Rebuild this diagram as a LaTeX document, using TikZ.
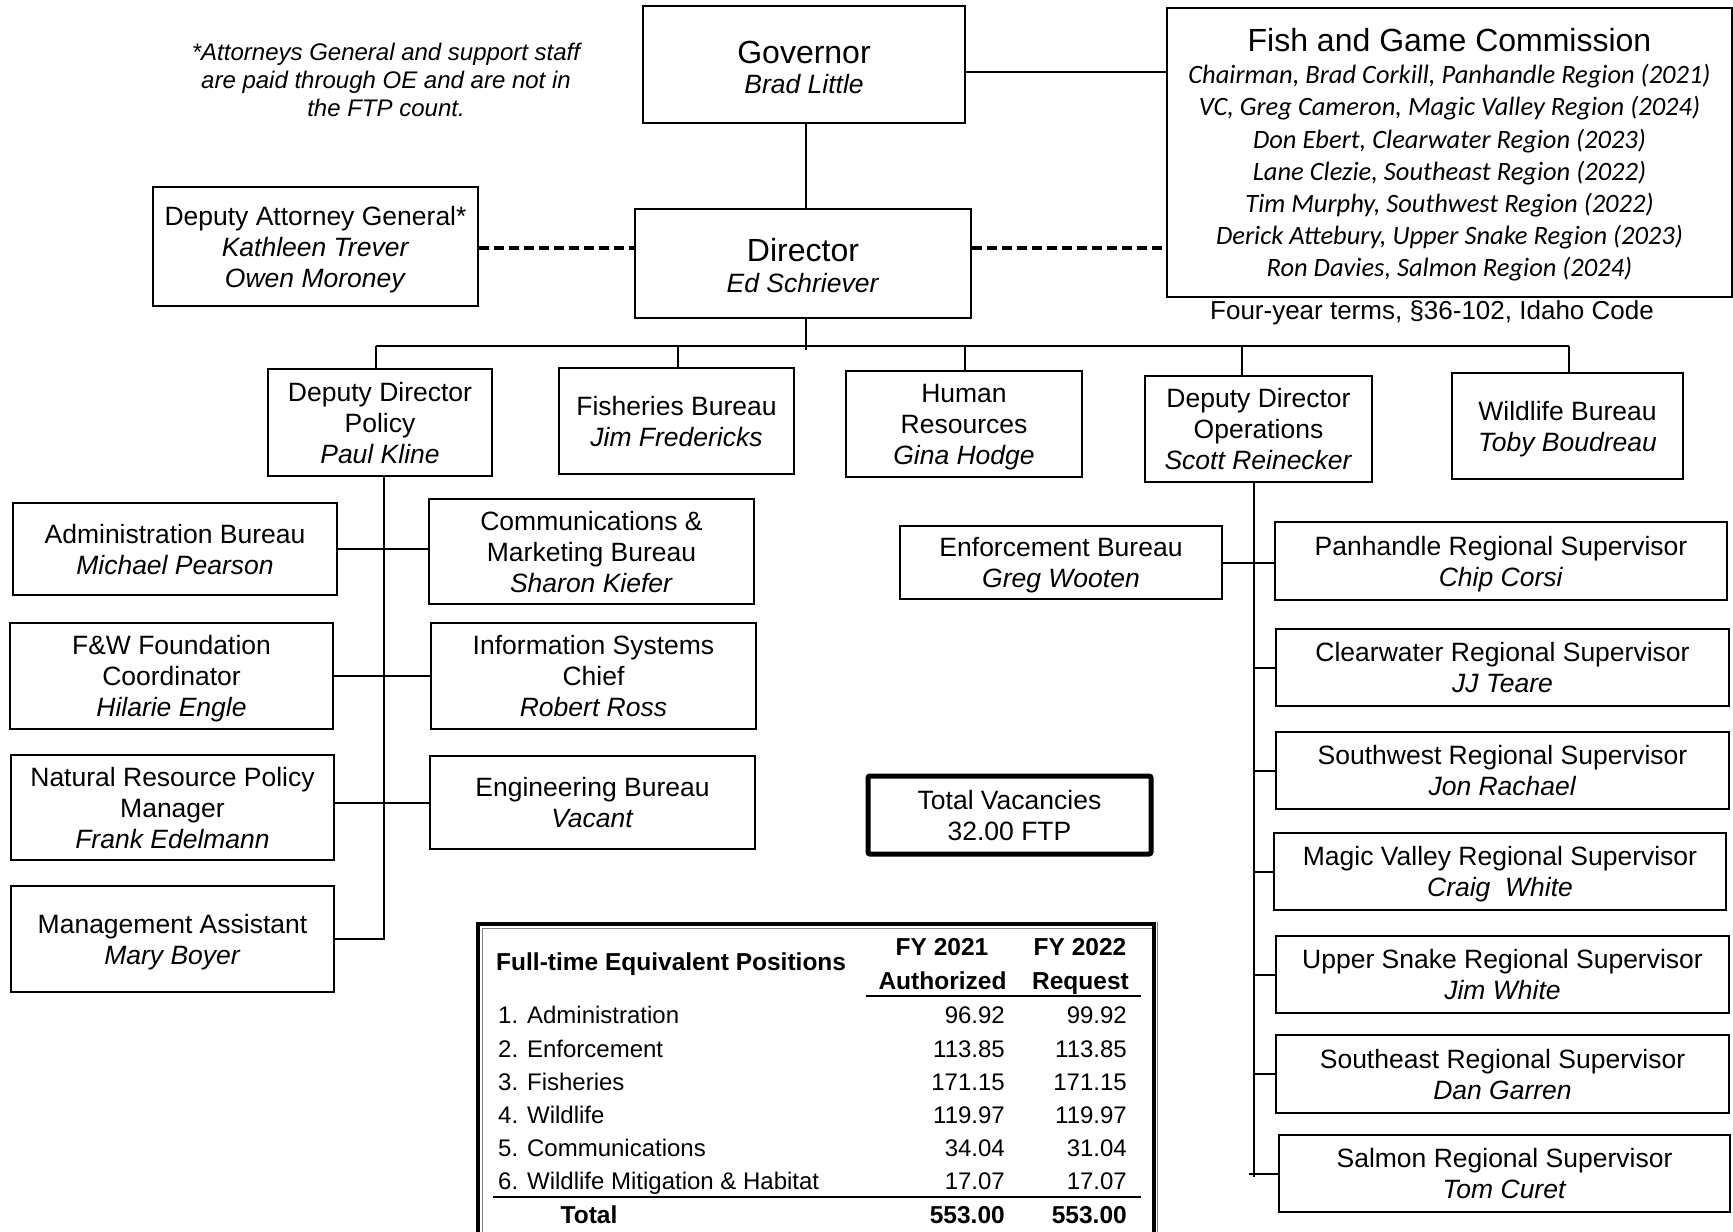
\documentclass[tikz,border=0pt]{standalone}
\usepackage{fontspec}
\setmainfont{Liberation Sans}
\newfontfamily\calfont{Carlito}
\newcommand\cmline[1]{{\calfont\itshape #1}}
\begin{document}
\begin{tikzpicture}[x=1pt,y=-1pt,
  box/.style={draw,line width=2pt,inner sep=0pt,align=center,text depth=0pt,font=\fontsize{26.5}{31}\selectfont},
  conn/.style={line width=2pt},
  dashconn/.style={line width=4pt,dash pattern=on 10pt off 5pt},
  tabtxt/.style={inner sep=0pt,font=\fontsize{24}{28}\selectfont},
  tabbold/.style={inner sep=0pt,font=\fontsize{24.5}{28}\selectfont\bfseries}
]
\useasboundingbox[fill=white] (0,0) rectangle (1733,1232);

% top level
\node[box,text height=57.2pt,minimum width=322pt,minimum height=117pt] (gov) at (804,64.5)
  {{\fontsize{32}{31}\selectfont Governor}\\[-1.5pt]\textit{Brad Little}};
\node[box,text height=57.8pt,minimum width=336pt,minimum height=109pt] (dir) at (803,263.5)
  {{\fontsize{32}{31}\selectfont Director}\\[-0.5pt]\textit{Ed Schriever}};
\node[box,minimum width=325pt,minimum height=119pt] (dag) at (315.5,246.5)
  {Deputy Attorney General*\\\textit{Kathleen Trever}\\\textit{Owen Moroney}};
\node[box,minimum width=565pt,minimum height=289pt,font=\fontsize{26.5}{32.2}\selectfont] (fgc) at (1449.5,152.5)
  {{\fontsize{32}{32}\selectfont Fish and Game Commission}\\[0.3pt]
   \cmline{Chairman, Brad Corkill, Panhandle Region (2021)}\\
   \cmline{VC, Greg Cameron, Magic Valley Region (2024)}\\
   \cmline{Don Ebert, Clearwater Region (2023)}\\
   \cmline{Lane Clezie, Southeast Region (2022)}\\
   \cmline{Tim Murphy, Southwest Region (2022)}\\
   \cmline{Derick Attebury, Upper Snake Region (2023)}\\
   \cmline{Ron Davies, Salmon Region (2024)}};
\node[inner sep=0pt,font=\fontsize{26}{30}\selectfont] (terms) at (1432,313)
  {Four-year terms, §36-102, Idaho Code};
\node[inner sep=0pt,align=center,font=\fontsize{24}{28}\selectfont\itshape] (note) at (386,80)
  {*Attorneys General and support staff\\are paid through OE and are not in\\the FTP count.};

% second level
\node[box,minimum width=224pt,minimum height=107pt] (policy) at (380,422.5)
  {Deputy Director\\Policy\\\textit{Paul Kline}};
\node[box,minimum width=235pt,minimum height=106pt] (fish) at (676.5,421)
  {Fisheries Bureau\\\textit{Jim Fredericks}};
\node[box,minimum width=236pt,minimum height=106pt] (hr) at (964,424)
  {Human\\Resources\\\textit{Gina Hodge}};
\node[box,minimum width=227pt,minimum height=106pt] (ops) at (1258.5,429)
  {Deputy Director\\Operations\\\textit{Scott Reinecker}};
\node[box,minimum width=231pt,minimum height=106pt] (wild) at (1567.5,426)
  {Wildlife Bureau\\\textit{Toby Boudreau}};

% policy branch
\node[box,minimum width=324pt,minimum height=92pt] (admin) at (175,549)
  {Administration Bureau\\\textit{Michael Pearson}};
\node[box,minimum width=325pt,minimum height=105pt] (comms) at (591.5,551.5)
  {Communications \&\\Marketing Bureau\\\textit{Sharon Kiefer}};
\node[box,minimum width=323pt,minimum height=106pt] (fw) at (171.5,676)
  {F\&W Foundation\\Coordinator\\\textit{Hilarie Engle}};
\node[box,minimum width=325pt,minimum height=106pt] (info) at (593.5,676)
  {Information Systems\\Chief\\\textit{Robert Ross}};
\node[box,minimum width=323pt,minimum height=105pt] (natres) at (172.5,807.5)
  {Natural Resource Policy\\Manager\\\textit{Frank Edelmann}};
\node[box,minimum width=325pt,minimum height=93pt] (eng) at (592.5,802.5)
  {Engineering Bureau\\\textit{Vacant}};
\node[box,minimum width=323pt,minimum height=106pt] (mgmt) at (172.5,939)
  {Management Assistant\\\textit{Mary Boyer}};

% operations branch
\node[box,minimum width=322pt,minimum height=73pt] (enf) at (1061,562.5)
  {Enforcement Bureau\\\textit{Greg Wooten}};
\node[box,minimum width=452pt,minimum height=78pt] (pan) at (1501,561)
  {Panhandle Regional Supervisor\\\textit{Chip Corsi}};
\node[box,minimum width=453pt,minimum height=77pt] (clw) at (1502.5,667.5)
  {Clearwater Regional Supervisor\\\textit{JJ Teare}};
\node[box,minimum width=453pt,minimum height=77pt] (sw) at (1502.5,770.5)
  {Southwest Regional Supervisor\\\textit{Jon Rachael}};
\node[box,minimum width=452pt,minimum height=77pt] (mv) at (1500,871.5)
  {Magic Valley Regional Supervisor\\\textit{Craig\ \ White}};
\node[box,minimum width=453pt,minimum height=77pt] (us) at (1502.5,974.5)
  {Upper Snake Regional Supervisor\\\textit{Jim White}};
\node[box,minimum width=453pt,minimum height=78pt] (se) at (1502.5,1074)
  {Southeast Regional Supervisor\\\textit{Dan Garren}};
\node[box,minimum width=451pt,minimum height=77pt] (sal) at (1504.5,1173.5)
  {Salmon Regional Supervisor\\\textit{Tom Curet}};

\node[box,line width=5pt,rounded corners=2pt,minimum width=283pt,minimum height=78pt] (vac) at (1009.5,815)
  {Total Vacancies\\32.00 FTP};

% connectors
\coordinate (dv) at (806,0);
\coordinate (bl) at (376,346);
\coordinate (br) at (1569,346);
\coordinate (d2) at (678,346);
\coordinate (d3) at (965,346);
\coordinate (d4) at (1242,346);
\coordinate (pv) at (384,0);
\coordinate (ov) at (1254,0);
\coordinate (oend) at (1254,1177);

\draw[conn] (gov.south -| dv) -- (dir.north -| dv);
\draw[conn] ([yshift=-7.5pt]gov.east) -- ([yshift=-7.5pt]gov.east -| fgc.west);
\draw[dashconn] ([yshift=-1.5pt]dag.east) -- ([yshift=-1.5pt]dag.east -| dir.west);
\draw[dashconn] ([yshift=16pt]dir.east) -- ([yshift=16pt]dir.east -| fgc.west);

\draw[conn] (bl) -- (br);
\draw[conn] (dir.south -| dv) -- ++(0,31);
\draw[conn] (bl) -- (bl |- policy.north);
\draw[conn] (d2) -- (d2 |- fish.north);
\draw[conn] (d3) -- (d3 |- hr.north);
\draw[conn] (d4) -- (d4 |- ops.north);
\draw[conn] (br) -- (br |- wild.north);

\draw[conn] (policy.south -| pv) -- (pv |- mgmt.east) -- (mgmt.east);
\draw[conn] (admin.east) -- (admin.east -| comms.west);
\draw[conn] (fw.east) -- (fw.east -| info.west);
\draw[conn] (eng.west) -- (eng.west -| natres.east);

\draw[conn] (ops.south -| ov) -- (oend);
\draw[conn] (enf.east) -- (enf.east -| pan.west);
\draw[conn] (clw.west) -- (clw.west -| ov);
\draw[conn] (sw.west) -- (sw.west -| ov);
\draw[conn] (mv.west) -- (mv.west -| ov);
\draw[conn] (us.west) -- (us.west -| ov);
\draw[conn] (se.west) -- (se.west -| ov);
\draw[conn] (sal.west) -- ([xshift=-5pt]sal.west -| ov);

% FTE table
\draw[line width=4pt] (478,924) rectangle (1154,1240);
\draw[line width=1.2pt,gray] (482.5,1240) -- (482.5,928.5) -- (1152,928.5);
\draw[line width=1.2pt,gray] (1157.5,922) -- (1157.5,1240);

\node[tabbold,anchor=base west] (tabh) at (496,970.5) {Full-time Equivalent Positions};
\node[tabbold,anchor=base] (fy1) at (942,955) {FY 2021};
\node[tabbold,anchor=base] (au1) at (942.5,989.6) {Authorized};
\node[tabbold,anchor=base] (fy2) at (1080,955) {FY 2022};
\node[tabbold,anchor=base] (rq2) at (1080.5,989.6) {Request};
\draw[line width=2.5pt] (866,996) -- (1141,996);

\foreach \lab/\va/\vb [count=\i] in {
  1. Administration/96.92/99.92,
  2. Enforcement/113.85/113.85,
  3. Fisheries/171.15/171.15,
  4. Wildlife/119.97/119.97,
  5. Communications/34.04/31.04,
  6. Wildlife Mitigation \& Habitat/17.07/17.07}{
  \pgfmathsetmacro\yy{990.6+33.2*\i}
  \node[tabtxt,anchor=base west] (rl\i) at (498,\yy) {\lab};
  \node[tabtxt,anchor=base east] (ra\i) at (1005,\yy) {\va};
  \node[tabtxt,anchor=base east] (rb\i) at (1127,\yy) {\vb};
}
\draw[line width=2.5pt] (493,1197) -- (1141,1197);
\node[tabbold,anchor=base] (tot) at (589,1223.6) {Total};
\node[tabbold,anchor=base east] (tota) at (1005,1223.6) {553.00};
\node[tabbold,anchor=base east] (totb) at (1127,1223.6) {553.00};
\end{tikzpicture}
\end{document}
